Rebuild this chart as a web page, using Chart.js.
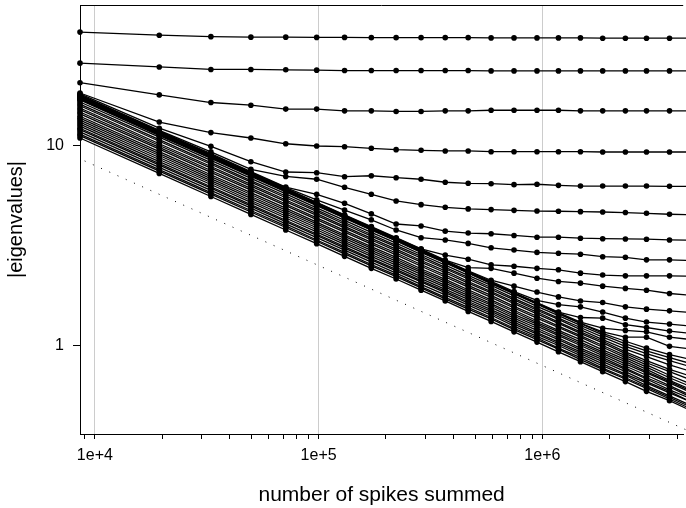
<!DOCTYPE html>
<html>
<head>
<meta charset="utf-8">
<script src="https://cdn.jsdelivr.net/npm/chart.js@4.4.1/dist/chart.umd.min.js"></script>
<style>
  html, body { margin: 0; padding: 0; background: #fff; }
  #wrap { width: 686px; height: 508px; }
</style>
</head>
<body>
<div id="wrap"><canvas id="eigChart" width="686" height="508"></canvas></div>
<script>
// number of spikes summed at each estimate (last one falls just past the right edge)
const spikeCounts = [8580, 19400, 33000, 49800, 71300, 98000, 130600, 172000, 222000, 287000, 368000,
  466000, 590000, 747000, 946000, 1180000, 1480000, 1860000, 2350000, 2920000, 3700000, 4650000];

const xTickValues = [9000, 10000, 20000, 30000, 40000, 50000, 60000, 70000, 80000, 90000,
  100000, 200000, 300000, 400000, 500000, 600000, 700000, 800000, 900000,
  1000000, 2000000, 3000000, 4000000];
const xTickLabels = { 10000: '1e+4', 100000: '1e+5', 1000000: '1e+6' };
const yTickValues = [1, 10];

// dotted reference line
const refX = [9000, 4650000];
const refY = [8.37, 0.368];

// eigenvalues that split off from the bulk
const eig01 = [36.9, 35.6, 35.0, 34.8, 34.8, 34.7, 34.7, 34.6, 34.6, 34.6, 34.6, 34.6, 34.5, 34.5, 34.5, 34.5, 34.5, 34.4, 34.4, 34.4, 34.4, 34.4];
const eig02 = [25.8, 24.7, 24.0, 24.0, 23.9, 23.8, 23.7, 23.7, 23.7, 23.7, 23.7, 23.7, 23.6, 23.6, 23.6, 23.6, 23.6, 23.6, 23.6, 23.6, 23.6, 23.6];
const eig03 = [20.6, 17.9, 16.4, 15.9, 15.2, 15.2, 14.9, 14.9, 14.8, 14.8, 14.9, 14.9, 15.0, 15.0, 15.0, 15.0, 14.9, 14.9, 14.9, 14.9, 14.9, 14.9];
const eig04 = [18.3, 13.1, 11.6, 10.9, 10.2, 9.94, 9.86, 9.68, 9.53, 9.46, 9.39, 9.39, 9.31, 9.31, 9.31, 9.31, 9.31, 9.28, 9.28, 9.28, 9.28, 9.28];
const eig05 = [18.1, 12.2, 9.9, 8.3, 7.37, 7.31, 6.98, 7.06, 6.90, 6.78, 6.55, 6.47, 6.44, 6.37, 6.40, 6.32, 6.27, 6.27, 6.27, 6.27, 6.25, 6.24];
const eig06 = [17.9, 11.9, 9.3, 7.6, 7.0, 6.78, 6.18, 5.70, 5.28, 5.06, 4.91, 4.82, 4.78, 4.74, 4.70, 4.69, 4.67, 4.65, 4.62, 4.58, 4.53, 4.50];
const eig07 = [17.8, 11.8, 9.1, 7.4, 6.2, 5.70, 5.14, 4.55, 4.05, 3.96, 3.73, 3.65, 3.62, 3.55, 3.48, 3.48, 3.44, 3.42, 3.41, 3.40, 3.37, 3.36];
const eig08 = [17.7, 11.8, 9.0, 7.35, 6.15, 5.35, 4.75, 4.25, 3.78, 3.46, 3.37, 3.24, 3.08, 3.00, 2.92, 2.89, 2.86, 2.78, 2.76, 2.68, 2.68, 2.66];
const eig09 = [17.6, 11.7, 8.98, 7.3, 6.1, 5.2, 4.5, 3.93, 3.46, 3.04, 2.83, 2.70, 2.53, 2.49, 2.43, 2.39, 2.30, 2.25, 2.23, 2.23, 2.23, 2.22];
const eig10 = [17.5, 11.65, 8.92, 7.26, 6.07, 5.18, 4.48, 3.91, 3.44, 3.03, 2.67, 2.45, 2.43, 2.30, 2.17, 2.09, 2.05, 1.98, 1.93, 1.89, 1.82, 1.78];
const eig11 = [17.4, 11.6, 8.87, 7.22, 6.04, 5.15, 4.46, 3.89, 3.42, 3.01, 2.66, 2.36, 2.12, 1.98, 1.85, 1.75, 1.67, 1.64, 1.56, 1.52, 1.49, 1.46];
const eig12 = [17.3, 11.5, 8.82, 7.18, 6.0, 5.12, 4.43, 3.86, 3.40, 2.99, 2.64, 2.35, 2.09, 1.86, 1.68, 1.60, 1.56, 1.47, 1.37, 1.31, 1.28, 1.25];
const eig13 = [17.2, 11.45, 8.77, 7.14, 5.97, 5.09, 4.41, 3.84, 3.38, 2.97, 2.63, 2.33, 2.07, 1.84, 1.64, 1.47, 1.38, 1.37, 1.27, 1.23, 1.18, 1.15];
const eig14 = [17.1, 11.4, 8.72, 7.1, 5.93, 5.06, 4.38, 3.82, 3.36, 2.96, 2.61, 2.32, 2.06, 1.83, 1.63, 1.46, 1.31, 1.22, 1.19, 1.17, 1.10, 1.07];
const eig15 = [17.0, 11.3, 8.67, 7.06, 5.9, 5.03, 4.36, 3.80, 3.34, 2.94, 2.60, 2.31, 2.05, 1.82, 1.62, 1.45, 1.29, 1.17, 1.10, 1.10, 0.99, 0.96];

// the bulk, falling roughly as 1/sqrt(N)
const eig16 = [16.9, 11.2, 8.62, 7.01, 5.86, 5.00, 4.33, 3.77, 3.33, 2.92, 2.59, 2.30, 2.04, 1.81, 1.61, 1.44, 1.29, 1.15, 1.05, 0.97, 0.90, 0.85];
const eig17 = [16.5, 11.0, 8.42, 6.85, 5.73, 4.88, 4.22, 3.68, 3.25, 2.85, 2.52, 2.24, 2.00, 1.77, 1.57, 1.41, 1.26, 1.13, 1.02, 0.94, 0.87, 0.81];
const eig18 = [16.1, 10.7, 8.21, 6.68, 5.59, 4.77, 4.12, 3.59, 3.17, 2.79, 2.46, 2.19, 1.95, 1.72, 1.53, 1.37, 1.23, 1.10, 0.99, 0.91, 0.84, 0.78];
const eig19 = [15.8, 10.5, 8.06, 6.56, 5.48, 4.68, 4.04, 3.52, 3.11, 2.73, 2.42, 2.15, 1.91, 1.69, 1.50, 1.35, 1.20, 1.07, 0.96, 0.88, 0.80, 0.74];
const eig20 = [15.4, 10.2, 7.85, 6.39, 5.34, 4.56, 3.94, 3.43, 3.03, 2.66, 2.36, 2.09, 1.86, 1.65, 1.47, 1.31, 1.17, 1.05, 0.93, 0.84, 0.76, 0.70];
const eig21 = [15.1, 10.0, 7.70, 6.27, 5.24, 4.47, 3.87, 3.37, 2.97, 2.61, 2.31, 2.05, 1.83, 1.62, 1.44, 1.29, 1.15, 1.03, 0.91, 0.82, 0.74, 0.67];
const eig22 = [14.7, 9.78, 7.50, 6.10, 5.10, 4.35, 3.76, 3.28, 2.90, 2.54, 2.25, 2.00, 1.78, 1.57, 1.40, 1.25, 1.12, 1.00, 0.89, 0.80, 0.71, 0.64];
const eig23 = [14.4, 9.58, 7.34, 5.98, 5.00, 4.26, 3.69, 3.21, 2.84, 2.49, 2.20, 1.96, 1.74, 1.54, 1.37, 1.23, 1.10, 0.98, 0.87, 0.78, 0.69, 0.62];
const eig24 = [14.0, 9.31, 7.14, 5.81, 4.86, 4.14, 3.58, 3.12, 2.76, 2.42, 2.14, 1.90, 1.69, 1.50, 1.33, 1.19, 1.07, 0.95, 0.85, 0.76, 0.67, 0.60];
const eig25 = [13.7, 9.11, 6.99, 5.69, 4.75, 4.06, 3.51, 3.06, 2.70, 2.37, 2.10, 1.86, 1.66, 1.47, 1.30, 1.17, 1.04, 0.93, 0.83, 0.74, 0.66, 0.59];
const eig26 = [13.4, 8.91, 6.83, 5.56, 4.65, 3.97, 3.43, 2.99, 2.64, 2.32, 2.05, 1.82, 1.62, 1.43, 1.28, 1.14, 1.02, 0.91, 0.81, 0.73, 0.65, 0.58];
const eig27 = [13.1, 8.71, 6.68, 5.44, 4.55, 3.88, 3.35, 2.92, 2.58, 2.27, 2.00, 1.78, 1.59, 1.40, 1.25, 1.12, 1.00, 0.89, 0.79, 0.71, 0.63, 0.56];
const eig28 = [12.8, 8.51, 6.53, 5.31, 4.44, 3.79, 3.28, 2.85, 2.52, 2.21, 1.96, 1.74, 1.55, 1.37, 1.22, 1.09, 0.97, 0.87, 0.77, 0.69, 0.62, 0.55];
const eig29 = [12.5, 8.31, 6.38, 5.19, 4.34, 3.70, 3.20, 2.79, 2.46, 2.16, 1.91, 1.70, 1.51, 1.34, 1.19, 1.07, 0.95, 0.85, 0.76, 0.68, 0.60, 0.54];
const eig30 = [12.2, 8.11, 6.22, 5.06, 4.23, 3.61, 3.12, 2.72, 2.40, 2.11, 1.87, 1.66, 1.48, 1.31, 1.16, 1.04, 0.93, 0.83, 0.74, 0.66, 0.59, 0.52];
const eig31 = [12.0, 7.98, 6.12, 4.98, 4.16, 3.55, 3.07, 2.68, 2.36, 2.08, 1.84, 1.63, 1.45, 1.28, 1.14, 1.02, 0.91, 0.81, 0.72, 0.65, 0.58, 0.52];
const eig32 = [11.7, 7.78, 5.97, 4.86, 4.06, 3.46, 3.00, 2.61, 2.30, 2.02, 1.79, 1.59, 1.42, 1.25, 1.11, 1.00, 0.89, 0.79, 0.71, 0.63, 0.56, 0.50];
const eig33 = [11.4, 7.58, 5.81, 4.73, 3.96, 3.37, 2.92, 2.54, 2.25, 1.97, 1.74, 1.55, 1.38, 1.22, 1.09, 0.97, 0.87, 0.77, 0.69, 0.62, 0.55, 0.49];
const eig34 = [11.2, 7.45, 5.71, 4.65, 3.89, 3.32, 2.87, 2.50, 2.21, 1.94, 1.71, 1.52, 1.36, 1.20, 1.07, 0.96, 0.85, 0.76, 0.68, 0.61, 0.54, 0.48];
const eig35 = [10.9, 7.25, 5.56, 4.52, 3.78, 3.23, 2.79, 2.43, 2.15, 1.89, 1.67, 1.48, 1.32, 1.17, 1.04, 0.93, 0.83, 0.74, 0.66, 0.59, 0.53, 0.47];

const eigSeries = [eig01, eig02, eig03, eig04, eig05, eig06, eig07, eig08, eig09, eig10,
  eig11, eig12, eig13, eig14, eig15, eig16, eig17, eig18, eig19, eig20,
  eig21, eig22, eig23, eig24, eig25, eig26, eig27, eig28, eig29, eig30,
  eig31, eig32, eig33, eig34, eig35];

const fontFamily = "'Liberation Sans', Arial, Helvetica, sans-serif";

const datasets = eigSeries.map(vals => ({
  data: vals.map((v, i) => ({ x: spikeCounts[i], y: v })),
  borderColor: '#000',
  borderWidth: 1.3,
  pointRadius: 2.8,
  pointBackgroundColor: '#000',
  pointBorderWidth: 0,
  pointHoverRadius: 0,
  tension: 0,
  fill: false,
  clip: false
}));

datasets.push({
  data: refX.map((x, i) => ({ x: x, y: refY[i] })),
  borderColor: '#000',
  borderWidth: 1,
  borderDash: [1, 8],
  pointRadius: 0,
  tension: 0,
  fill: false,
  clip: false
});

// R style box: only the top edge is missing from the axes
const frameTop = {
  id: 'frameTop',
  afterDraw(chart) {
    const { ctx, chartArea } = chart;
    ctx.save();
    ctx.strokeStyle = '#000';
    ctx.lineWidth = 1;
    ctx.beginPath();
    ctx.moveTo(chartArea.left, chartArea.top + 0.5);
    ctx.lineTo(chartArea.right, chartArea.top + 0.5);
    ctx.stroke();
    ctx.restore();
  }
};

// no extra room for half labels at the ends of the axes
const noEdgePadding = scale => {
  scale.paddingTop = 0;
  scale.paddingBottom = 0;
  scale.paddingLeft = 0;
  scale.paddingRight = 0;
};

new Chart(document.getElementById('eigChart').getContext('2d'), {
  type: 'line',
  data: { datasets: datasets },
  plugins: [frameTop],
  options: {
    responsive: false,
    animation: false,
    devicePixelRatio: 1,
    layout: { padding: { top: 5, right: 0, bottom: 0, left: 0 } },
    plugins: {
      legend: { display: false },
      tooltip: { enabled: false }
    },
    scales: {
      x: {
        type: 'logarithmic',
        min: 8580,
        max: 4260000,
        afterBuildTicks: scale => { scale.ticks = xTickValues.map(v => ({ value: v })); },
        afterFit: scale => { scale.height = 74; noEdgePadding(scale); },
        grid: {
          color: ctx => (ctx.tick && xTickLabels[ctx.tick.value]) ? '#cccccc' : 'rgba(0,0,0,0)',
          tickColor: '#000',
          tickLength: 5,
          lineWidth: 1
        },
        border: { display: true, color: '#000', width: 1 },
        ticks: {
          autoSkip: false,
          maxRotation: 0,
          padding: 7,
          color: '#000',
          font: { family: fontFamily, size: 16 },
          callback: v => xTickLabels[v] || ''
        },
        title: {
          display: true,
          text: 'number of spikes summed',
          color: '#000',
          font: { family: fontFamily, size: 21 },
          padding: { top: 0, bottom: 0 }
        }
      },
      y: {
        type: 'logarithmic',
        min: 0.361,
        max: 50.4,
        afterBuildTicks: scale => { scale.ticks = yTickValues.map(v => ({ value: v })); },
        afterFit: scale => { scale.width = 80; noEdgePadding(scale); },
        grid: { drawOnChartArea: false, tickColor: '#000', tickLength: 7 },
        border: { display: true, color: '#000', width: 1 },
        ticks: {
          padding: 9,
          color: '#000',
          font: { family: fontFamily, size: 16 },
          callback: v => String(v)
        },
        title: {
          display: true,
          text: '|eigenvalues|',
          color: '#000',
          font: { family: fontFamily, size: 20 },
          padding: { top: 4, bottom: 0 }
        }
      }
    }
  }
});
</script>
</body>
</html>
